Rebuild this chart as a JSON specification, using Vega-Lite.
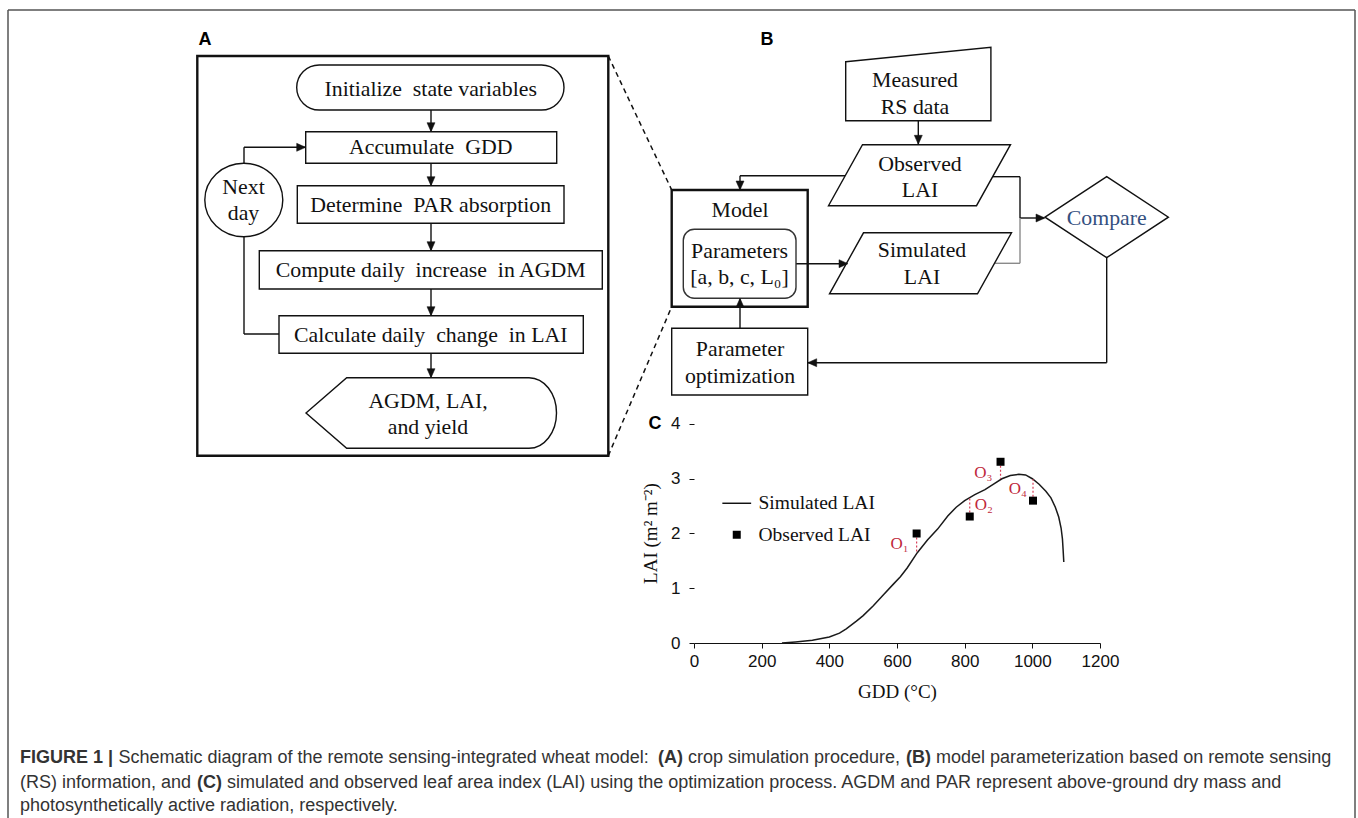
{
  "$schema": "https://vega.github.io/schema/vega-lite/v6.json",
  "background": "white",
  "padding": 0,
  "columns": 2,
  "align": "none",
  "bounds": "flush",
  "spacing": -664,
  "resolve": {"scale": {"shape": "independent"}, "legend": {"shape": "independent"}},
  "datasets": {
    "frame": [
      {"x1": 8, "y1": 10, "x2": 1355, "y2": 10},
      {"x1": 8, "y1": 10, "x2": 8, "y2": 818},
      {"x1": 1355, "y1": 10, "x2": 1355, "y2": 818}
    ],
    "dashed": [
      {"x1": 608.3, "y1": 56, "x2": 671.7, "y2": 190},
      {"x1": 608.3, "y1": 455.7, "x2": 671.7, "y2": 306.7}
    ],
    "links": [
      {"x1": 431, "y1": 110, "x2": 431, "y2": 131},
      {"x1": 431, "y1": 163.3, "x2": 431, "y2": 185},
      {"x1": 431, "y1": 223.3, "x2": 431, "y2": 250},
      {"x1": 431, "y1": 289, "x2": 431, "y2": 315},
      {"x1": 431, "y1": 353.3, "x2": 431, "y2": 377},
      {"x1": 279, "y1": 334, "x2": 244, "y2": 334},
      {"x1": 244, "y1": 334, "x2": 244, "y2": 236.7},
      {"x1": 244, "y1": 163.3, "x2": 244, "y2": 147.3},
      {"x1": 244, "y1": 147.3, "x2": 305, "y2": 147.3},
      {"x1": 918.3, "y1": 120.7, "x2": 918.3, "y2": 144},
      {"x1": 845, "y1": 175.7, "x2": 740, "y2": 175.7},
      {"x1": 740, "y1": 175.7, "x2": 740, "y2": 189},
      {"x1": 993, "y1": 176.7, "x2": 1020, "y2": 176.7},
      {"x1": 1020, "y1": 176.7, "x2": 1020, "y2": 218},
      {"x1": 1020, "y1": 218, "x2": 1044, "y2": 218},
      {"x1": 796, "y1": 263.7, "x2": 848, "y2": 263.7},
      {"x1": 740, "y1": 328.3, "x2": 740, "y2": 299},
      {"x1": 1106.7, "y1": 257, "x2": 1106.7, "y2": 362.7},
      {"x1": 1106.7, "y1": 362.7, "x2": 808, "y2": 362.7}
    ],
    "greyLinks": [
      {"x1": 1020, "y1": 218, "x2": 1020, "y2": 263.3},
      {"x1": 1020, "y1": 263.3, "x2": 995, "y2": 263.3}
    ],
    "boxes": [
      {"kind": "frame", "x1": 197.3, "x2": 608.3, "y1": 56, "y2": 455.7},
      {"kind": "frame", "x1": 671.7, "x2": 807.7, "y1": 190, "y2": 306.7},
      {"kind": "plain", "x1": 305.7, "x2": 556.7, "y1": 131.7, "y2": 163.3},
      {"kind": "plain", "x1": 297.3, "x2": 564, "y1": 185.7, "y2": 223.3},
      {"kind": "plain", "x1": 259.3, "x2": 602.3, "y1": 250.7, "y2": 289},
      {"kind": "plain", "x1": 279, "x2": 583.3, "y1": 315.7, "y2": 353.3},
      {"kind": "plain", "x1": 671.7, "x2": 807.7, "y1": 328.3, "y2": 395},
      {"kind": "stadium", "x1": 296.7, "x2": 564, "y1": 65, "y2": 110},
      {"kind": "rounded", "x1": 683.3, "x2": 796, "y1": 229.3, "y2": 298.3}
    ],
    "shapes": [
      {"kind": "trap", "x": 918.3, "y": 84},
      {"kind": "para", "x": 919.5, "y": 175.2},
      {"kind": "para", "x": 920.5, "y": 263.3},
      {"kind": "diamond", "x": 1106.7, "y": 217.2},
      {"kind": "output", "x": 430, "y": 413},
      {"kind": "ellipse", "x": 243.8, "y": 200}
    ],
    "heads": [
      {"kind": "down", "x": 431, "y": 131.7},
      {"kind": "down", "x": 431, "y": 185.7},
      {"kind": "down", "x": 431, "y": 250.7},
      {"kind": "down", "x": 431, "y": 315.7},
      {"kind": "down", "x": 431, "y": 377.7},
      {"kind": "right", "x": 305.7, "y": 147.3},
      {"kind": "down", "x": 918.3, "y": 144.3},
      {"kind": "down", "x": 740, "y": 190},
      {"kind": "right", "x": 1045, "y": 218},
      {"kind": "right", "x": 848, "y": 263.7},
      {"kind": "up", "x": 740, "y": 298.3},
      {"kind": "left", "x": 807.7, "y": 362.7}
    ],
    "texts": [
      {"role": "node", "text": "Initialize\u00a0 state variables", "x": 430.7, "y": 88.5},
      {"role": "node", "text": "Accumulate\u00a0 GDD", "x": 430.7, "y": 147},
      {"role": "node", "text": "Determine\u00a0 PAR absorption", "x": 430.7, "y": 204.5},
      {"role": "node", "text": "Compute daily\u00a0 increase\u00a0 in AGDM", "x": 430.7, "y": 270},
      {"role": "node", "text": "Calculate daily\u00a0 change\u00a0 in LAI", "x": 430.7, "y": 334.5},
      {"role": "node2", "text": "AGDM, LAI,\nand yield", "x": 428, "y": 414},
      {"role": "node2", "text": "Next\nday", "x": 243.5, "y": 200},
      {"role": "node2", "text": "Measured\nRS data", "x": 915, "y": 93.3},
      {"role": "node2", "text": "Observed\nLAI", "x": 920, "y": 177},
      {"role": "node2", "text": "Simulated\nLAI", "x": 922, "y": 263.7},
      {"role": "node", "text": "Model", "x": 740, "y": 210},
      {"role": "node2", "text": "Parameters\n[a, b, c, L\u2080]", "x": 739.5, "y": 264},
      {"role": "node2", "text": "Parameter\noptimization", "x": 740, "y": 362.5},
      {"role": "compare", "text": "Compare", "x": 1106.7, "y": 218},
      {"role": "panel", "text": "A", "x": 205, "y": 40},
      {"role": "panel", "text": "B", "x": 767, "y": 40},
      {"role": "panel", "text": "C", "x": 655, "y": 424},
      {"role": "captionEmph", "text": "FIGURE 1 |", "x": 20, "y": 758},
      {"role": "caption", "text": "Schematic diagram of the remote sensing-integrated wheat model:", "x": 118.5, "y": 758},
      {"role": "captionEmph", "text": "(A)", "x": 658, "y": 758},
      {"role": "caption", "text": "crop simulation procedure,", "x": 688, "y": 758},
      {"role": "captionEmph", "text": "(B)", "x": 906, "y": 758},
      {"role": "caption", "text": "model parameterization based on remote sensing", "x": 936, "y": 758},
      {"role": "caption", "text": "(RS) information, and", "x": 20, "y": 783},
      {"role": "captionEmph", "text": "(C)", "x": 196.9, "y": 783},
      {"role": "caption", "text": "simulated and observed leaf area index (LAI) using the optimization process. AGDM and PAR represent above-ground dry mass and", "x": 227, "y": 783},
      {"role": "caption", "text": "photosynthetically active radiation, respectively.", "x": 20, "y": 806}
    ],
    "curve": [
      {"gdd": 260, "lai": 0.0}, {"gdd": 300, "lai": 0.02}, {"gdd": 350, "lai": 0.05},
      {"gdd": 400, "lai": 0.11}, {"gdd": 430, "lai": 0.18}, {"gdd": 450, "lai": 0.26},
      {"gdd": 480, "lai": 0.4}, {"gdd": 500, "lai": 0.5}, {"gdd": 530, "lai": 0.68},
      {"gdd": 560, "lai": 0.88}, {"gdd": 590, "lai": 1.08}, {"gdd": 610, "lai": 1.21},
      {"gdd": 630, "lai": 1.37}, {"gdd": 660, "lai": 1.65}, {"gdd": 690, "lai": 1.88},
      {"gdd": 720, "lai": 2.08}, {"gdd": 750, "lai": 2.32}, {"gdd": 775, "lai": 2.48},
      {"gdd": 800, "lai": 2.6}, {"gdd": 830, "lai": 2.71}, {"gdd": 860, "lai": 2.8},
      {"gdd": 890, "lai": 2.92}, {"gdd": 910, "lai": 3.0}, {"gdd": 935, "lai": 3.06},
      {"gdd": 960, "lai": 3.08}, {"gdd": 980, "lai": 3.07}, {"gdd": 1000, "lai": 3.0},
      {"gdd": 1020, "lai": 2.9}, {"gdd": 1040, "lai": 2.77}, {"gdd": 1055, "lai": 2.65},
      {"gdd": 1068, "lai": 2.48}, {"gdd": 1078, "lai": 2.3}, {"gdd": 1085, "lai": 2.1},
      {"gdd": 1089, "lai": 1.9}, {"gdd": 1091, "lai": 1.7}, {"gdd": 1093, "lai": 1.48}
    ],
    "observed": [
      {"series": "Observed LAI", "gdd": 658, "lai": 2.0, "sim": 1.64, "label": "O\u2081"},
      {"series": "Observed LAI", "gdd": 815, "lai": 2.31, "sim": 2.67, "label": "O\u2082"},
      {"series": "Observed LAI", "gdd": 906, "lai": 3.31, "sim": 3.0, "label": "O\u2083"},
      {"series": "Observed LAI", "gdd": 1002, "lai": 2.6, "sim": 2.99, "label": "O\u2084"}
    ]
  },
  "concat": [
    {
      "width": 1358,
      "height": 818,
      "layer": [
        {
          "data": {"name": "frame"},
          "mark": {"type": "rule", "color": "#555555", "strokeWidth": 1.5},
          "encoding": {
            "x": {"field": "x1", "type": "quantitative", "scale": {"domain": [0, 1358], "nice": false, "zero": false}, "axis": null},
            "x2": {"field": "x2"},
            "y": {"field": "y1", "type": "quantitative", "scale": {"domain": [0, 818], "nice": false, "zero": false, "reverse": true}, "axis": null},
            "y2": {"field": "y2"}
          }
        },
        {
          "data": {"name": "dashed"},
          "mark": {"type": "rule", "color": "#111111", "strokeWidth": 1.5, "strokeDash": [5, 4]},
          "encoding": {
            "x": {"field": "x1", "type": "quantitative", "axis": null},
            "x2": {"field": "x2"},
            "y": {"field": "y1", "type": "quantitative", "axis": null},
            "y2": {"field": "y2"}
          }
        },
        {
          "data": {"name": "links"},
          "mark": {"type": "rule", "color": "#111111", "strokeWidth": 1.4},
          "encoding": {
            "x": {"field": "x1", "type": "quantitative", "axis": null},
            "x2": {"field": "x2"},
            "y": {"field": "y1", "type": "quantitative", "axis": null},
            "y2": {"field": "y2"}
          }
        },
        {
          "data": {"name": "greyLinks"},
          "mark": {"type": "rule", "color": "#8a8a8a", "strokeWidth": 1.4},
          "encoding": {
            "x": {"field": "x1", "type": "quantitative", "axis": null},
            "x2": {"field": "x2"},
            "y": {"field": "y1", "type": "quantitative", "axis": null},
            "y2": {"field": "y2"}
          }
        },
        {
          "data": {"name": "boxes"},
          "transform": [{"filter": "datum.kind === 'frame'"}],
          "mark": {"type": "rect", "filled": false, "stroke": "#111111", "strokeWidth": 2.4},
          "encoding": {
            "x": {"field": "x1", "type": "quantitative", "axis": null},
            "x2": {"field": "x2"},
            "y": {"field": "y1", "type": "quantitative", "axis": null},
            "y2": {"field": "y2"}
          }
        },
        {
          "data": {"name": "boxes"},
          "transform": [{"filter": "datum.kind === 'plain'"}],
          "mark": {"type": "rect", "fill": "white", "stroke": "#111111", "strokeWidth": 1.4},
          "encoding": {
            "x": {"field": "x1", "type": "quantitative", "axis": null},
            "x2": {"field": "x2"},
            "y": {"field": "y1", "type": "quantitative", "axis": null},
            "y2": {"field": "y2"}
          }
        },
        {
          "data": {"name": "boxes"},
          "transform": [{"filter": "datum.kind === 'stadium'"}],
          "mark": {"type": "rect", "fill": "white", "stroke": "#111111", "strokeWidth": 1.4, "cornerRadius": 22.5},
          "encoding": {
            "x": {"field": "x1", "type": "quantitative", "axis": null},
            "x2": {"field": "x2"},
            "y": {"field": "y1", "type": "quantitative", "axis": null},
            "y2": {"field": "y2"}
          }
        },
        {
          "data": {"name": "boxes"},
          "transform": [{"filter": "datum.kind === 'rounded'"}],
          "mark": {"type": "rect", "fill": "white", "stroke": "#333333", "strokeWidth": 1.4, "cornerRadius": 11},
          "encoding": {
            "x": {"field": "x1", "type": "quantitative", "axis": null},
            "x2": {"field": "x2"},
            "y": {"field": "y1", "type": "quantitative", "axis": null},
            "y2": {"field": "y2"}
          }
        },
        {
          "data": {"name": "shapes"},
          "mark": {"type": "point", "filled": true, "fill": "white", "stroke": "#111111", "strokeWidth": 1.4, "size": 4, "opacity": 1},
          "encoding": {
            "x": {"field": "x", "type": "quantitative", "axis": null},
            "y": {"field": "y", "type": "quantitative", "axis": null},
            "shape": {
              "field": "kind", "type": "nominal", "legend": null,
              "scale": {
                "domain": ["trap", "para", "diamond", "output", "ellipse", "down", "up", "left", "right"],
                "range": [
                  "M-72.6,-22.3L72.6,-36.7L72.6,36.7L-72.6,36.7Z",
                  "M-57,-30.5L91,-30.5L57,30.5L-91,30.5Z",
                  "M-61.7,0L0,-40.5L61.7,0L0,40.5Z",
                  "M-124,0L-83.3,-35.3L99,-35.3A27.5,35.3 0 0 1 99,35.3L-83.3,35.3Z",
                  "M-39,0A39,36.7 0 1 1 39,0A39,36.7 0 1 1 -39,0Z",
                  "M0,0L-4,-9L4,-9Z",
                  "M0,0L-4,9L4,9Z",
                  "M0,0L9,-4L9,4Z",
                  "M0,0L-9,-4L-9,4Z"
                ]
              }
            }
          }
        },
        {
          "data": {"name": "heads"},
          "mark": {"type": "point", "filled": true, "fill": "#111111", "stroke": "#111111", "strokeWidth": 0.5, "size": 4, "opacity": 1},
          "encoding": {
            "x": {"field": "x", "type": "quantitative", "axis": null},
            "y": {"field": "y", "type": "quantitative", "axis": null},
            "shape": {
              "field": "kind", "type": "nominal", "legend": null,
              "scale": {
                "domain": ["trap", "para", "diamond", "output", "ellipse", "down", "up", "left", "right"],
                "range": [
                  "M-72.6,-22.3L72.6,-36.7L72.6,36.7L-72.6,36.7Z",
                  "M-57,-30.5L91,-30.5L57,30.5L-91,30.5Z",
                  "M-61.7,0L0,-40.5L61.7,0L0,40.5Z",
                  "M-124,0L-83.3,-35.3L99,-35.3A27.5,35.3 0 0 1 99,35.3L-83.3,35.3Z",
                  "M-39,0A39,36.7 0 1 1 39,0A39,36.7 0 1 1 -39,0Z",
                  "M0,0L-4,-9L4,-9Z",
                  "M0,0L-4,9L4,9Z",
                  "M0,0L9,-4L9,4Z",
                  "M0,0L-9,-4L-9,4Z"
                ]
              }
            }
          }
        },
        {
          "data": {"name": "texts"},
          "transform": [{"filter": "datum.role === 'node'"}],
          "mark": {"type": "text", "font": "Liberation Serif", "fontSize": 21.8, "color": "#111111", "align": "center", "baseline": "middle"},
          "encoding": {
            "x": {"field": "x", "type": "quantitative", "axis": null},
            "y": {"field": "y", "type": "quantitative", "axis": null},
            "text": {"field": "text"}
          }
        },
        {
          "data": {"name": "texts"},
          "transform": [{"filter": "datum.role === 'node2'"}],
          "mark": {"type": "text", "font": "Liberation Serif", "fontSize": 21.8, "color": "#111111", "align": "center", "baseline": "middle", "lineBreak": "\n", "lineHeight": 26.5, "dy": -13.25},
          "encoding": {
            "x": {"field": "x", "type": "quantitative", "axis": null},
            "y": {"field": "y", "type": "quantitative", "axis": null},
            "text": {"field": "text"}
          }
        },
        {
          "data": {"name": "texts"},
          "transform": [{"filter": "datum.role === 'compare'"}],
          "mark": {"type": "text", "font": "Liberation Serif", "fontSize": 21.8, "color": "#34507f", "align": "center", "baseline": "middle"},
          "encoding": {
            "x": {"field": "x", "type": "quantitative", "axis": null},
            "y": {"field": "y", "type": "quantitative", "axis": null},
            "text": {"field": "text"}
          }
        },
        {
          "data": {"name": "texts"},
          "transform": [{"filter": "datum.role === 'panel'"}],
          "mark": {"type": "text", "font": "Liberation Sans", "fontSize": 18, "fontWeight": "bold", "color": "#000000", "align": "center", "baseline": "middle"},
          "encoding": {
            "x": {"field": "x", "type": "quantitative", "axis": null},
            "y": {"field": "y", "type": "quantitative", "axis": null},
            "text": {"field": "text"}
          }
        },
        {
          "data": {"name": "texts"},
          "transform": [{"filter": "datum.role === 'caption'"}],
          "mark": {"type": "text", "font": "Liberation Sans", "fontSize": 18, "color": "#333333", "align": "left", "baseline": "middle"},
          "encoding": {
            "x": {"field": "x", "type": "quantitative", "axis": null},
            "y": {"field": "y", "type": "quantitative", "axis": null},
            "text": {"field": "text"}
          }
        },
        {
          "data": {"name": "texts"},
          "transform": [{"filter": "datum.role === 'captionEmph'"}],
          "mark": {"type": "text", "font": "Liberation Sans", "fontSize": 18, "fontWeight": "bold", "color": "#333333", "align": "left", "baseline": "middle"},
          "encoding": {
            "x": {"field": "x", "type": "quantitative", "axis": null},
            "y": {"field": "y", "type": "quantitative", "axis": null},
            "text": {"field": "text"}
          }
        }
      ]
    },
    {
      "width": 406,
      "height": 643,
      "layer": [
        {
          "data": {"name": "curve"},
          "mark": {"type": "line", "color": "#1a1a1a", "strokeWidth": 1.5},
          "encoding": {
            "x": {
              "field": "gdd", "type": "quantitative", "title": "GDD (\u00b0C)",
              "scale": {"domain": [0, 1200], "nice": false, "zero": false},
              "axis": {
                "values": [0, 200, 400, 600, 800, 1000, 1200], "format": "d", "grid": false, "domain": true, "domainColor": "#111111",
                "tickSize": 5, "tickColor": "#111111", "labelFlush": false,
                "labelFont": "Liberation Sans", "labelFontSize": 17, "labelColor": "#111111", "labelPadding": 5,
                "titleFont": "Liberation Serif", "titleFontSize": 19, "titleFontWeight": "normal", "titleColor": "#111111",
                "titleY": 48.7, "titleBaseline": "middle"
              }
            },
            "y": {
              "field": "lai", "type": "quantitative", "title": "LAI (m\u00b2 m\u207b\u00b2)",
              "scale": {"domain": [0, 11.744], "nice": false, "zero": false},
              "axis": {
                "values": [0, 1, 2, 3, 4], "format": "d", "grid": false, "domain": false,
                "tickSize": 5, "tickColor": "#111111",
                "labelFont": "Liberation Sans", "labelFontSize": 17, "labelColor": "#111111", "labelPadding": 9,
                "titleFont": "Liberation Serif", "titleFontSize": 19, "titleFontWeight": "normal", "titleColor": "#111111",
                "titleX": -44, "titleY": 533, "titleAngle": -90, "titleAlign": "center", "titleBaseline": "middle"
              }
            }
          }
        },
        {
          "mark": {"type": "rule", "color": "#111111", "strokeWidth": 1},
          "encoding": {
            "x": {"datum": 0, "type": "quantitative", "title": "GDD (\u00b0C)"},
            "x2": {"datum": 1200},
            "y": {"datum": 4, "type": "quantitative", "title": "LAI (m\u00b2 m\u207b\u00b2)"}
          }
        },
        {
          "mark": {"type": "rule", "color": "#111111", "strokeWidth": 1},
          "encoding": {
            "x": {"datum": 0, "type": "quantitative", "title": "GDD (\u00b0C)"},
            "y": {"datum": 0, "type": "quantitative", "title": "LAI (m\u00b2 m\u207b\u00b2)"},
            "y2": {"datum": 4}
          }
        },
        {
          "data": {"name": "observed"},
          "mark": {"type": "rule", "color": "#d9405a", "strokeWidth": 1.2, "strokeDash": [2, 2]},
          "encoding": {
            "x": {"field": "gdd", "type": "quantitative", "title": "GDD (\u00b0C)"},
            "y": {"field": "lai", "type": "quantitative", "title": "LAI (m\u00b2 m\u207b\u00b2)"},
            "y2": {"field": "sim"}
          }
        },
        {
          "data": {"name": "observed"},
          "mark": {"type": "point", "filled": true, "color": "#000000", "size": 64, "opacity": 1},
          "encoding": {
            "x": {"field": "gdd", "type": "quantitative", "title": "GDD (\u00b0C)"},
            "y": {"field": "lai", "type": "quantitative", "title": "LAI (m\u00b2 m\u207b\u00b2)"},
            "shape": {
              "field": "series", "type": "nominal",
              "scale": {"domain": ["Simulated LAI", "Observed LAI"], "range": ["M-3.6,-0.17L3.6,-0.17L3.6,0.17L-3.6,0.17Z", "square"]},
              "legend": {
                "orient": "none", "legendX": 33, "legendY": 493.5, "title": null, "padding": 0,
                "symbolSize": 64, "symbolOffset": 0, "labelOffset": 12, "rowPadding": 10.5,
                "labelFont": "Liberation Serif", "labelFontSize": 19.5, "labelColor": "#111111",
                "symbolFillColor": "#111111", "symbolStrokeWidth": 0,
                "encode": {"symbols": {"update": {"fill": {"value": "#111111"}, "opacity": {"value": 1}}}}
              }
            }
          }
        },
        {
          "data": {"name": "observed"},
          "transform": [{"filter": "datum.label === 'O\u2081' || datum.label === 'O\u2083'"}],
          "mark": {"type": "text", "font": "Liberation Serif", "fontSize": 17, "color": "#c0283c", "align": "right", "baseline": "middle", "dx": -8, "dy": 11},
          "encoding": {
            "x": {"field": "gdd", "type": "quantitative", "title": "GDD (\u00b0C)"},
            "y": {"field": "lai", "type": "quantitative", "title": "LAI (m\u00b2 m\u207b\u00b2)"},
            "text": {"field": "label"}
          }
        },
        {
          "data": {"name": "observed"},
          "transform": [{"filter": "datum.label === 'O\u2084'"}],
          "mark": {"type": "text", "font": "Liberation Serif", "fontSize": 17, "color": "#c0283c", "align": "right", "baseline": "middle", "dx": -6, "dy": -12},
          "encoding": {
            "x": {"field": "gdd", "type": "quantitative", "title": "GDD (\u00b0C)"},
            "y": {"field": "lai", "type": "quantitative", "title": "LAI (m\u00b2 m\u207b\u00b2)"},
            "text": {"field": "label"}
          }
        },
        {
          "data": {"name": "observed"},
          "transform": [{"filter": "datum.label === 'O\u2082'"}],
          "mark": {"type": "text", "font": "Liberation Serif", "fontSize": 17, "color": "#c0283c", "align": "left", "baseline": "middle", "dx": 5, "dy": -12},
          "encoding": {
            "x": {"field": "gdd", "type": "quantitative", "title": "GDD (\u00b0C)"},
            "y": {"field": "lai", "type": "quantitative", "title": "LAI (m\u00b2 m\u207b\u00b2)"},
            "text": {"field": "label"}
          }
        }
      ]
    }
  ],
  "config": {
    "view": {"stroke": null},
    "axis": {"grid": false},
    "font": "Liberation Sans"
  }
}
